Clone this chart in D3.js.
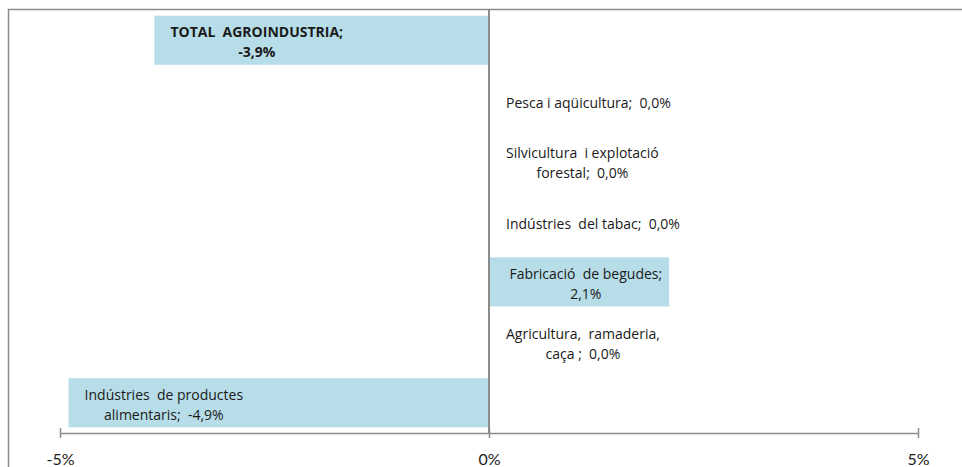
<!DOCTYPE html>
<head>
  <meta charset="utf-8">
  <script src="https://d3js.org/d3.v7.min.js"></script>
  <style>
    body { margin:0; background:#fff; }
    svg { display:block; }
    text { font-family: "Open Sans", "Noto Sans", sans-serif; fill:#1a1a1a; }
  </style>
</head>

<body>
  <svg width="962" height="467"></svg>
  <script>
    // categories, top to bottom
    var categories = ['total', 'pesca', 'silvicultura', 'tabac', 'begudes', 'agricultura', 'alimentaris'];
    var values = [-3.9, 0.0, 0.0, 0.0, 2.1, 0.0, -4.9];
    var labelLines = [
      ['TOTAL  AGROINDUSTRIA;', '-3,9%'],
      ['Pesca i aqüicultura;  0,0%'],
      ['Silvicultura  i explotació', 'forestal;  0,0%'],
      ['Indústries  del tabac;  0,0%'],
      ['Fabricació  de begudes;', '2,1%'],
      ['Agricultura,  ramaderia,', 'caça ;  0,0%'],
      ['Indústries  de productes', 'alimentaris;  -4,9%']
    ];
    var boldCats = ['total'];
    var xTicks = [-5, 0, 5];
    var xTickLabels = ['-5%', '0%', '5%'];

    var data = categories.map(function(c, i) {
      return {cat: c, value: values[i], lines: labelLines[i]};
    });

    var svg = d3.select('svg');

    var xScale = d3.scaleLinear()
      .domain([-5, 5])
      .range([60, 918]);

    var yScale = d3.scaleBand()
      .domain(categories)
      .range([10, 433])
      .paddingInner(0.187)
      .paddingOuter(0.094);

    // chart frame (continues past the window on the right and bottom)
    svg.append('path')
      .attr('d', 'M8.5,480V9.5H970')
      .attr('fill', 'none')
      .attr('stroke', '#8c8c8c')
      .attr('stroke-width', 1.5);

    // bars
    svg.selectAll('rect.bar')
      .data(data)
      .enter().append('rect')
      .attr('class', 'bar')
      .attr('x', function(d) { return xScale(Math.min(0, d.value)); })
      .attr('width', function(d) { return Math.abs(xScale(d.value) - xScale(0)); })
      .attr('y', function(d) { return yScale(d.cat); })
      .attr('height', yScale.bandwidth())
      .attr('fill', '#b7dde8');

    // zero line
    svg.append('line')
      .attr('x1', xScale(0)).attr('x2', xScale(0))
      .attr('y1', 10).attr('y2', 434)
      .attr('stroke', '#8c8c8c')
      .attr('stroke-width', 2);

    // x axis
    var xAxis = d3.axisBottom(xScale)
      .tickValues(xTicks)
      .tickSize(0)
      .tickFormat(function(d, i) { return xTickLabels[i]; });

    var gx = svg.append('g')
      .attr('transform', 'translate(0,433)')
      .call(xAxis);
    gx.select('.domain').attr('stroke', '#8c8c8c').attr('stroke-width', 1.5);
    gx.selectAll('.tick line')
      .attr('y1', -5).attr('y2', 5)
      .attr('stroke', '#8c8c8c').attr('stroke-width', 1.5);
    gx.selectAll('.tick text')
      .attr('dy', 0).attr('y', 32)
      .style('font-family', 'Lato, sans-serif')
      .style('font-size', '16px')
      .attr('fill', '#1a1a1a');

    // data labels
    var lineH = 20;
    var lab = svg.selectAll('g.lab')
      .data(data)
      .enter().append('g')
      .attr('class', 'lab');

    lab.each(function(d) {
      var g = d3.select(this);
      var cy = yScale(d.cat) + yScale.bandwidth() / 2;
      var n = d.lines.length;
      var t = g.selectAll('text')
        .data(d.lines)
        .enter().append('text')
        .style('white-space', 'pre')
        .style('font-size', '14px')
        .style('font-weight', boldCats.indexOf(d.cat) >= 0 ? 'bold' : 'normal')
        .attr('text-anchor', 'middle')
        .attr('y', function(l, i) { return cy + 7 + (i - (n - 1) / 2) * lineH; })
        .text(function(l) { return l; });
      var w = 0;
      t.each(function() { w = Math.max(w, this.getComputedTextLength()); });
      var left;
      if (d.value < 0) left = xScale(d.value) + 16;
      else if (d.value > 0) left = xScale(d.value) - 7 - w;
      else left = xScale(0) + 17;
      t.attr('x', left + w / 2);
    });
  </script>
</body>
